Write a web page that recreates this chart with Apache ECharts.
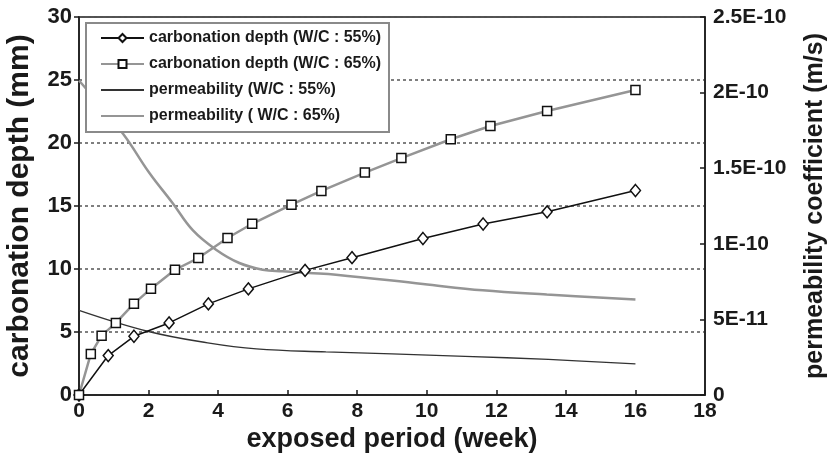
<!DOCTYPE html>
<html style="height: 100%">
<head>
    <meta charset="utf-8">
    <script src="https://cdn.jsdelivr.net/npm/echarts@6.0.0/dist/echarts.min.js"></script>
</head>
<body style="height: 100%; margin: 0; background: #fff">
    <div id="main" style="width: 830px; height: 467px;"></div>
    <script type="text/javascript">
    // carbonation depth (mm), W/C 55% and 65%
    var weeks55 = [0, 0.84, 1.58, 2.59, 3.72, 4.87, 6.5, 7.85, 9.89, 11.62, 13.46, 16];
    var carb55 = [0, 3.13, 4.66, 5.72, 7.23, 8.42, 9.89, 10.9, 12.42, 13.57, 14.54, 16.23];
    var weeks65 = [0, 0.34, 0.65, 1.06, 1.58, 2.07, 2.76, 3.43, 4.27, 4.98, 6.11, 6.97, 8.22, 9.27, 10.69, 11.83, 13.46, 16];
    var carb65 = [0, 3.26, 4.71, 5.72, 7.25, 8.44, 9.94, 10.87, 12.46, 13.59, 15.1, 16.2, 17.65, 18.8, 20.3, 21.35, 22.54, 24.2];

    // permeability coefficient (m/s)
    var permWeeks55 = [0, 2.0, 3.7, 5.1, 7.1, 9.0, 11.1, 13.5, 16];
    var perm55 = [5.6e-11, 4.2e-11, 3.45e-11, 3.05e-11, 2.85e-11, 2.72e-11, 2.56e-11, 2.35e-11, 2.06e-11];
    var permWeeks65 = [0, 1.26, 2.02, 2.69, 3.27, 3.94, 4.61, 5.28, 5.85, 6.61, 7.39, 9.89, 11.61, 13.45, 16];
    var perm65 = [20.8e-11, 17.3e-11, 14.7e-11, 12.7e-11, 10.9e-11, 9.61e-11, 8.73e-11, 8.29e-11, 8.18e-11, 8.07e-11, 7.96e-11, 7.34e-11, 6.92e-11, 6.64e-11, 6.31e-11];

    var names = [
        'carbonation depth (W/C : 55%)',
        'carbonation depth (W/C : 65%)',
        'permeability (W/C : 55%)',
        'permeability ( W/C : 65%)'
    ];

    function pairs(xs, ys) {
        return xs.map(function (x, i) { return [x, ys[i]]; });
    }

    var ink = '#1a1a1a';
    var font = '"Liberation Sans", Arial, sans-serif';
    var noMark = { color: 'rgba(0,0,0,0)', borderColor: 'rgba(0,0,0,0)', borderWidth: 0 };

    var myChart = echarts.init(document.getElementById('main'));
    var option = {
        backgroundColor: '#fff',
        animation: false,
        textStyle: { fontFamily: font, color: ink },
        grid: {
            left: 79, right: 125, top: 17, bottom: 72,
            outerBoundsMode: 'none',
            show: true, borderColor: ink, borderWidth: 1.5
        },
        legend: {
            left: 86, top: 23,
            orient: 'vertical',
            padding: [6, 8, 7, 14],
            itemWidth: 43, itemHeight: 10, itemGap: 8,
            backgroundColor: '#fff',
            borderColor: '#8a8a8a', borderWidth: 2,
            textStyle: { fontSize: 16, fontWeight: 'bold', color: ink, lineHeight: 18 },
            data: [
                { name: names[0] },
                { name: names[1] },
                { name: names[2], itemStyle: noMark },
                { name: names[3], itemStyle: noMark }
            ]
        },
        xAxis: {
            type: 'value', min: 0, max: 18, interval: 2,
            name: 'exposed period (week)', nameLocation: 'middle', nameGap: 31,
            nameMoveOverlap: false,
            nameTextStyle: { fontSize: 27, fontWeight: 'bold', color: ink },
            axisLine: { lineStyle: { color: ink, width: 1.5 } },
            axisTick: { inside: true, length: 5, lineStyle: { color: ink, width: 1.5 } },
            axisLabel: { fontSize: 21, fontWeight: 'bold', color: ink, margin: 6 },
            splitLine: { show: false }
        },
        yAxis: [{
            type: 'value', min: 0, max: 30, interval: 5,
            name: 'carbonation depth (mm)', nameLocation: 'middle', nameGap: 44, nameRotate: 90,
            nameMoveOverlap: false,
            nameTextStyle: { fontSize: 30, fontWeight: 'bold', color: ink },
            axisLine: { show: true, lineStyle: { color: ink, width: 1.5 } },
            axisTick: { show: true, length: 5, lineStyle: { color: ink, width: 1.5 } },
            axisLabel: { fontSize: 22, fontWeight: 'bold', color: ink, margin: 7 },
            splitLine: { show: true, lineStyle: { color: '#555', width: 1.5, type: [3, 3] } }
        }, {
            type: 'value', min: 0, max: 2.5e-10, interval: 5e-11, position: 'right',
            name: 'permeability coefficient (m/s)', nameLocation: 'middle', nameGap: 98, nameRotate: 90,
            nameMoveOverlap: false,
            nameTextStyle: { fontSize: 25, fontWeight: 'bold', color: ink },
            axisLine: { show: true, lineStyle: { color: ink, width: 1.5 } },
            axisTick: { show: true, inside: true, length: 5, lineStyle: { color: ink, width: 1.5 } },
            axisLabel: {
                fontSize: 21, fontWeight: 'bold', color: ink, margin: 8,
                formatter: function (v) {
                    if (v === 0) return '0';
                    return Number(v.toPrecision(4)).toExponential().replace('e', 'E');
                }
            },
            splitLine: { show: false }
        }],
        series: [{
            name: names[0], type: 'line', yAxisIndex: 0,
            data: pairs(weeks55, carb55),
            symbol: 'diamond', symbolSize: [10, 12],
            lineStyle: { color: '#111', width: 1.5 },
            itemStyle: { color: '#fff', borderColor: '#111', borderWidth: 1.5 },
            z: 4
        }, {
            name: names[1], type: 'line', yAxisIndex: 0,
            data: pairs(weeks65, carb65),
            symbol: 'rect', symbolSize: 9,
            lineStyle: { color: '#959595', width: 2.5 },
            itemStyle: { color: '#fff', borderColor: '#111', borderWidth: 1.5 },
            z: 4
        }, {
            name: names[2], type: 'line', yAxisIndex: 1,
            data: pairs(permWeeks55, perm55),
            symbol: 'none', smooth: 0.4,
            lineStyle: { color: '#333', width: 1.3 },
            itemStyle: { color: '#333' }
        }, {
            name: names[3], type: 'line', yAxisIndex: 1,
            data: pairs(permWeeks65, perm65),
            symbol: 'none', smooth: 0.4,
            lineStyle: { color: '#959595', width: 2.5 },
            itemStyle: { color: '#959595' }
        }]
    };
    myChart.setOption(option, true);
    </script>
</body>
</html>
